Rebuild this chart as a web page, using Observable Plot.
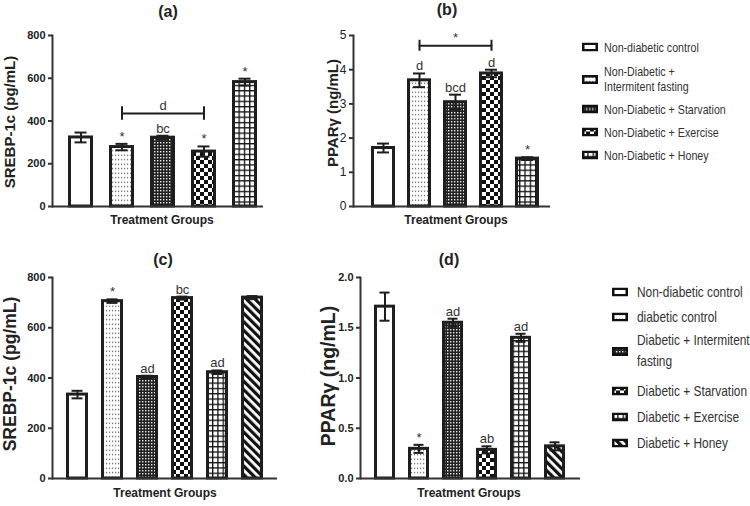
<!DOCTYPE html>
<html><head><meta charset="utf-8">
<script src="https://cdn.jsdelivr.net/npm/d3@7"></script>
<script src="https://cdn.jsdelivr.net/npm/@observablehq/plot@0.6"></script>
<style>
body{margin:0;background:#fff;font-family:"Liberation Sans",Arial,sans-serif;color:#222}
#root{position:relative;width:750px;height:506px;overflow:hidden}
.abs{position:absolute}
.title{font-weight:bold;font-size:16px;transform:translate(-50%,-50%);white-space:nowrap}
.xlab{font-weight:bold;font-size:12px;transform:translate(-50%,-50%);white-space:nowrap}
.ylab{font-weight:bold;font-size:13px;transform:translate(-50%,-50%) rotate(-90deg);white-space:nowrap}
.leg{display:flex;align-items:center;transform:translateY(-50%);white-space:nowrap}
.leg svg{flex:none}
</style></head>
<body>
<svg width="0" height="0" style="position:absolute">
 <defs>
  <pattern id="pDots" width="3" height="4.5" patternUnits="userSpaceOnUse"><rect width="3" height="4.5" fill="#fff"/><rect x="1" y="1.6" width="1.2" height="1.2" fill="#555"/></pattern>
  <pattern id="pDense" width="3" height="3" patternUnits="userSpaceOnUse"><rect width="3" height="3" fill="#222"/><rect x="1" y="1" width="1.4" height="1.4" fill="#e8e8e8"/></pattern>
  <pattern id="pChecker" width="8" height="8" patternUnits="userSpaceOnUse"><rect width="8" height="8" fill="#fff"/><rect width="4" height="4" fill="#111"/><rect x="4" y="4" width="4" height="4" fill="#111"/></pattern>
  <pattern id="pGrid" width="5.3" height="5.3" patternUnits="userSpaceOnUse"><rect width="5.3" height="5.3" fill="#fff"/><rect width="1.3" height="5.3" fill="#111"/><rect width="5.3" height="1.3" fill="#111"/></pattern>
  <pattern id="pStripes" width="6" height="6" patternUnits="userSpaceOnUse" patternTransform="rotate(-45)"><rect width="6" height="6" fill="#fff"/><rect width="3.2" height="6" fill="#111"/></pattern>
 </defs>
</svg>
<div id="root"></div>
<script>
// ---------- DATA ----------
const topGroups = ["Non-diabetic control", "Non-Diabetic + Intermitent fasting", "Non-Diabetic + Starvation", "Non-Diabetic + Exercise", "Non-Diabetic + Honey"];
const botGroups = ["Non-diabetic control", "diabetic control", "Diabetic + Intermitent fasting", "Diabetic + Starvation", "Diabetic + Exercise", "Diabetic + Honey"];

const srebpA = [323, 278, 322, 257, 582];
const srebpAErr = [23, 15, 9, 24, 16];
const srebpASig = ["", "*", "bc", "*", "*"];

const ppargB = [1.71, 3.69, 3.05, 3.89, 1.40];
const ppargBErr = [0.13, 0.2, 0.22, 0.11, 0.04];
const ppargBSig = ["", "d", "bcd", "d", "*"];

const srebpC = [334, 706, 404, 718, 423, 720];
const srebpCErr = [15, 7, 5, 6, 7, 6];
const srebpCSig = ["", "*", "ad", "bc", "ad", ""];

const ppargD = [1.71, 0.295, 1.55, 0.285, 1.40, 0.32];
const ppargDErr = [0.14, 0.04, 0.04, 0.035, 0.04, 0.04];
const ppargDSig = ["", "*", "ad", "ab", "ad", ""];

const ticksSrebp = [0, 200, 400, 600, 800];
const ticksPpargB = [0, 1, 2, 3, 4, 5];
const ticksPpargD = [0, 0.5, 1.0, 1.5, 2.0];

// bracket annotations (group pairs)
const bracketA = {from: topGroups[1], to: topGroups[3], mid: topGroups[2], label: "d", level: 435};
const bracketB = {from: topGroups[1], to: topGroups[3], mid: topGroups[2], label: "*", level: 4.7};

// ---------- STYLE ----------
function hasFont(name) {
  const c = document.createElement("canvas").getContext("2d");
  const s = "Non-Diabetic + Intermitent fasting";
  c.font = "20px monospace"; const w0 = c.measureText(s).width;
  c.font = `20px "${name}", monospace`; const w1 = c.measureText(s).width;
  return Math.abs(w0 - w1) > 1;
}
const NARROW_OK = hasFont("Liberation Sans Narrow");
const NARROW = NARROW_OK ? '"Liberation Sans Narrow", "Liberation Sans", Arial, sans-serif' : '"Liberation Sans", Arial, sans-serif';
const SQUEEZE = NARROW_OK ? 1 : 0.82;

const topFills = ["#fff", "url(#pDots)", "url(#pDense)", "url(#pChecker)", "url(#pGrid)"];
const botFills = ["#fff", "url(#pDots)", "url(#pDense)", "url(#pChecker)", "url(#pGrid)", "url(#pStripes)"];
const INK = "#1e1e1e", AXIS = "#333";
const root = document.getElementById("root");

function rows(groups, vals, errs, sig, fills) {
  return groups.map((g, i) => ({group: g, value: vals[i], err: errs[i], sig: sig[i], fill: fills[i]}));
}

function panel(o) {
  const data = rows(o.groups, o.vals, o.errs, o.sig, o.fills);
  const marks = [
    Plot.barY(data, {x: "group", y: "value", fill: "fill", stroke: INK, strokeWidth: 3, insetLeft: 1.5, insetRight: 1.5}),
    Plot.ruleX(data, {x: "group", y1: d => d.value - d.err, y2: d => d.value + d.err, stroke: INK, strokeWidth: 2}),
    Plot.tickY(data, {x: "group", y: d => d.value + d.err, stroke: INK, strokeWidth: 2, insetLeft: o.cap, insetRight: o.cap}),
    Plot.tickY(data, {x: "group", y: d => d.value - d.err, stroke: INK, strokeWidth: 2, insetLeft: o.cap, insetRight: o.cap}),
    Plot.text(data, {x: "group", y: d => d.value + d.err, text: "sig", dy: -3, lineAnchor: "bottom", fontSize: 13, fontFamily: NARROW, fontWeight: "normal", fill: "#333"}),
    Plot.ruleY([0], {stroke: AXIS, strokeWidth: 2}),
    Plot.frame({anchor: "left", stroke: AXIS, strokeWidth: 2}),
    Plot.axisY({ticks: o.ticks, tickSize: 4, tickPadding: 3, tickFormat: o.tickFormat, label: null, fontSize: o.tickFont, fontWeight: o.tickWeight, fontFamily: o.tickFamily, stroke: AXIS, strokeWidth: 2})
  ];
  if (o.bracket) {
    const b = o.bracket;
    marks.push(
      Plot.line([{g: b.from, y: b.level}, {g: b.to, y: b.level}], {x: "g", y: "y", stroke: INK, strokeWidth: 2}),
      Plot.ruleX([b.from, b.to], {y1: b.level - o.capSpan, y2: b.level + o.capSpan, stroke: INK, strokeWidth: 2}),
      Plot.text([b], {x: "mid", y: "level", text: "label", dy: -4, lineAnchor: "bottom", fontSize: 13, fontFamily: NARROW, fontWeight: "normal", fill: "#333"})
    );
  }
  const svg = Plot.plot({
    width: o.width, height: o.height,
    marginLeft: o.ml, marginRight: o.mr, marginTop: o.mt, marginBottom: o.mb,
    style: {fontFamily: '"Liberation Sans", Arial, sans-serif', color: "#222", background: "transparent", overflow: "visible"},
    x: {domain: o.groups, paddingInner: o.pi, paddingOuter: o.po, align: o.align, axis: null},
    y: {domain: o.domain, axis: null},
    color: {type: "identity"},
    marks
  });
  svg.style.position = "absolute";
  svg.style.left = o.left + "px";
  svg.style.top = o.top + "px";
  root.appendChild(svg);
}

function label(cls, text, x, y, size) {
  const d = document.createElement("div");
  d.className = "abs " + cls;
  d.textContent = text;
  d.style.left = x + "px"; d.style.top = y + "px";
  if (size) d.style.fontSize = size + "px";
  root.appendChild(d);
}

panel({groups: topGroups, vals: srebpA, errs: srebpAErr, sig: srebpASig, fills: topFills,
  domain: [0, 800], ticks: ticksSrebp, tickFormat: "d", tickFont: 11, tickWeight: "bold",
  left: 0, top: 0, width: 270, height: 230, ml: 52, mr: 7, mt: 35, mb: 24,
  pi: 0.38, po: 0.23, align: 0.72, cap: 6.5, bracket: bracketA, capSpan: 32});

panel({groups: topGroups, vals: ppargB, errs: ppargBErr, sig: ppargBSig, fills: topFills,
  domain: [0, 5], ticks: ticksPpargB, tickFormat: "d", tickFont: 12, tickWeight: "normal", tickFamily: NARROW,
  left: 270, top: 0, width: 285, height: 230, ml: 83, mr: 5, mt: 35, mb: 24,
  pi: 0.34, po: 0.385, align: 0.61, cap: 6, bracket: bracketB, capSpan: 0.16});

panel({groups: botGroups, vals: srebpC, errs: srebpCErr, sig: srebpCSig, fills: botFills,
  domain: [0, 800], ticks: ticksSrebp, tickFormat: "d", tickFont: 11, tickWeight: "bold",
  left: 0, top: 250, width: 280, height: 256, ml: 52, mr: 3, mt: 27, mb: 28,
  pi: 0.373, po: 0.39, align: 0.5, cap: 5.5});

panel({groups: botGroups, vals: ppargD, errs: ppargDErr, sig: ppargDSig, fills: botFills,
  domain: [0, 2], ticks: ticksPpargD, tickFormat: ".1f", tickFont: 11, tickWeight: "bold",
  left: 290, top: 250, width: 292, height: 256, ml: 70, mr: 2, mt: 27, mb: 28,
  pi: 0.377, po: 0.38, align: 0.5, cap: 5.5});

label("title", "(a)", 168, 12);
label("title", "(b)", 447, 10);
label("title", "(c)", 163, 260);
label("title", "(d)", 449, 260);
label("xlab", "Treatment Groups", 162, 220);
label("xlab", "Treatment Groups", 456, 220);
label("xlab", "Treatment Groups", 165, 493);
label("xlab", "Treatment Groups", 469, 493);
label("ylab", "SREBP-1c (pg/mL)", 9, 122, 15);
label("ylab", "PPARγ (ng/mL)", 332, 113, 15);
label("ylab", "SREBP-1c (pg/mL)", 10, 374, 17.5);
label("ylab", "PPARγ (ng/mL)", 328, 376, 19.5);

function legend(groups, fills, x, ys, fontSize, lineH, wrap, gap) {
  groups.forEach((g, i) => {
    const d = document.createElement("div");
    d.className = "abs leg";
    d.style.left = x + "px"; d.style.top = ys[i] + "px";
    d.innerHTML = `<svg width="16" height="9"><rect x="1.25" y="1.25" width="13.5" height="6.5" fill="${fills[i]}" stroke="#111" stroke-width="2.5"/></svg>`;
    const t = document.createElement("span");
    t.style.marginLeft = gap + "px";
    t.style.color = "#333";
    t.style.fontFamily = NARROW;
    t.style.fontSize = fontSize + "px";
    t.style.lineHeight = lineH + "px";
    t.style.display = "inline-block";
    t.style.transformOrigin = "left center";
    if (SQUEEZE !== 1) t.style.transform = `scaleX(${SQUEEZE})`;
    if (wrap[i]) { t.innerHTML = wrap[i].join("<br>"); } else { t.textContent = g; }
    d.appendChild(t);
    root.appendChild(d);
  });
}
legend(topGroups, topFills, 582, [47, 79, 109, 132, 155], 13, 15,
  [null, ["Non-Diabetic +", "Intermitent fasting"], null, null, null], 6);
legend(botGroups, botFills, 612, [292, 317, 351, 391, 417, 443], 14.5, 21,
  [null, null, ["Diabetic + Intermitent", "fasting"], null, null, null], 9);
</script>
</body></html>
